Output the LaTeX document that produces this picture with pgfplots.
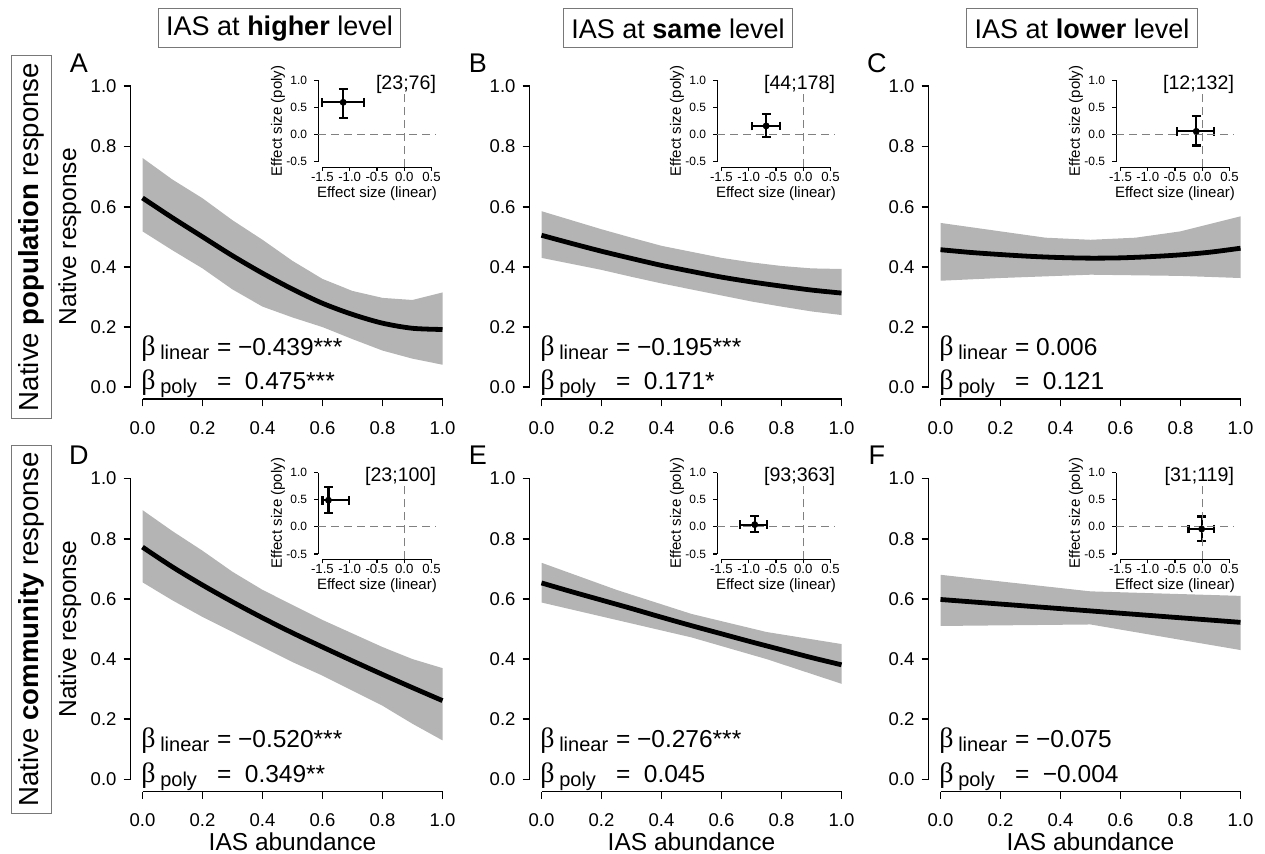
\documentclass[border=0pt]{standalone}
\usepackage{fontspec}
\setmainfont{Liberation Sans}
\newfontfamily\serif{Liberation Serif}
\usepackage{pgfplots}
\pgfplotsset{compat=1.18}
\definecolor{band}{RGB}{180,180,180}
\definecolor{boxgray}{RGB}{120,120,120}
\definecolor{dashgray}{RGB}{128,128,128}
\newcommand\fs[1]{\fontsize{#1}{#1}\selectfont}

\pgfplotsset{
  mainax/.style={
    x=150pt, y=150.5pt, xmin=-0.04, xmax=1.04, ymin=-0.04, ymax=1.04,
    anchor=south west, clip=false,
    axis lines*=left, axis line style={draw=none,-},
    tick align=outside, major tick length=3.5pt,
    every tick/.style={black,line width=0.9pt},
    xtick={0,0.2,0.4,0.6,0.8,1}, xticklabels={0.0,0.2,0.4,0.6,0.8,1.0},
    ytick={0,0.2,0.4,0.6,0.8,1}, yticklabels={0.0,0.2,0.4,0.6,0.8,1.0},
    tick label style={font=\fs{9.25}},
    xticklabel style={yshift=-4pt},
    every axis x label/.style={at={(axis description cs:0.5,-0.155)},anchor=center,font=\fs{12.25}},
    every axis y label/.style={at={(axis description cs:-0.187,0.5)},anchor=center,rotate=90,font=\fs{12.25}},
  },
  inset/.style={
    x=27.25pt, y=27.15pt, xmin=-1.58, xmax=0.58, ymin=-0.6, ymax=1.1,
    anchor=south west, clip=false,
    axis lines*=left, axis line style={draw=none,-},
    tick align=outside, major tick length=2pt,
    every tick/.style={black,line width=0.6pt},
    xtick={-1.5,-1,-0.5,0,0.5}, xticklabels={-1.5,-1.0,-0.5,0.0,0.5},
    ytick={-0.5,0,0.5,1}, yticklabels={-0.5,0.0,0.5,1.0},
    x tick label style={font=\fs{6.6},yshift=3pt},
    y tick label style={font=\fs{6}},
    xlabel={Effect size (linear)}, ylabel={Effect size (poly)},
    every axis x label/.style={at={(axis description cs:0.5,-0.289)},anchor=center,font=\fs{7.5}},
    every axis y label/.style={at={(axis description cs:-0.34,0.5)},anchor=center,rotate=90,font=\fs{7.5}},
  },
  band/.style={fill=band,draw=none},
  fit/.style={black,line width=2.4pt,smooth},
  ebar/.style={black,only marks,mark=*,mark size=1.5pt,
    error bars/.cd, x dir=both, x explicit, y dir=both, y explicit,
    error bar style={line width=1.1pt},
    error mark options={rotate=90,line width=1.1pt,mark size=2.2pt}},
}

% spines drawn only from first to last tick, as in base R
\newcommand\mainspines{%
  \draw[line width=0.9pt] (axis cs:-0.04,0) -- (axis cs:-0.04,1);
  \draw[line width=0.9pt] (axis cs:0,-0.04) -- (axis cs:1,-0.04);}
\newcommand\insetdeco[1]{%
  \draw[line width=0.6pt] (axis cs:-1.58,-0.5) -- (axis cs:-1.58,1);
  \draw[line width=0.6pt] (axis cs:-1.5,-0.6) -- (axis cs:0.5,-0.6);
  \draw[dashgray,line width=0.6pt,dash pattern=on 4pt off 2.5pt] (axis cs:-1.58,0) -- (axis cs:0.58,0);
  \draw[dashgray,line width=0.6pt,dash pattern=on 4pt off 2.5pt] (axis cs:0,-0.6) -- (axis cs:0,0.75);
  \node[anchor=east,inner sep=0,font=\fs{9.8}] at (axis cs:0.59,0.93) {#1};}
\newcommand\betas[3]{%
  \node[anchor=base west,inner sep=0,font=\serif\fs{14}] at (axis cs:-0.005,0.105) {β};
  \node[anchor=base west,inner sep=0,font=\fs{10}] at (axis cs:0.058,0.092) {linear};
  \node[anchor=base west,inner sep=0,font=\fs{12.25}] at (axis cs:0.247,0.105) {= #1};
  \node[anchor=base west,inner sep=0,font=\serif\fs{14}] at (axis cs:-0.005,-0.009) {β};
  \node[anchor=base west,inner sep=0,font=\fs{10}] at (axis cs:0.058,-0.022) {poly};
  \node[anchor=base west,inner sep=0,font=\fs{12.25}] at (axis cs:0.247,-0.009) {=~~#2};
  \node[font=\fs{13.5}] at (axis cs:-0.212,1.078) {#3};}

\begin{document}
\begin{tikzpicture}[x=0.5pt,y=0.5pt]
\path[use as bounding box] (0,0) rectangle (1265,854);

% column titles
\foreach \cx/\txt in {279.5/higher,678/same,1082/lower}
  \node[draw=boxgray,line width=0.5pt,font=\fs{13.5},inner xsep=4pt,minimum height=19.5pt]
    at (\cx,825.5) {IAS at \textbf{\txt} level};
% row titles
\node[draw=boxgray,line width=0.5pt,rotate=90,font=\fs{13.8},inner xsep=3.5pt,minimum height=19.5pt]
  at (31.5,617) {Native \textbf{population} response};
\node[draw=boxgray,line width=0.5pt,rotate=90,font=\fs{13.8},inner xsep=3.5pt,minimum height=19.5pt]
  at (31.5,224.8) {Native \textbf{community} response};

% ---------- A ----------
\begin{axis}[mainax, at={(65.25pt,227.33pt)}, ylabel={Native response}]
\addplot[band] coordinates {(0,.762)(.1,.69)(.2,.628)(.3,.555)(.4,.49)(.5,.42)(.6,.36)(.7,.32)(.8,.297)(.9,.29)(1,.315)
  (1,.075)(.9,.095)(.8,.122)(.7,.16)(.6,.20)(.5,.232)(.4,.268)(.3,.325)(.2,.395)(.1,.455)(0,.518)} -- cycle;
\addplot[fit] coordinates {(0,.629)(.1,.563)(.2,.500)(.3,.437)(.4,.379)(.5,.326)(.6,.279)(.7,.242)(.8,.213)(.9,.196)(1,.192)};
\mainspines
\betas{−0.439***}{0.475***}{A}
\end{axis}
\begin{axis}[inset, at={(159.05pt,343.4pt)}]
\addplot[ebar] coordinates {(-1.12,0.595) += (0.38,0.245) -= (0.39,0.295)};
\insetdeco{[23;76]}
\end{axis}

% ---------- B ----------
\begin{axis}[mainax, at={(264.75pt,227.33pt)}]
\addplot[band] coordinates {(0,.585)(.1,.555)(.2,.525)(.3,.497)(.4,.47)(.5,.45)(.6,.43)(.7,.415)(.8,.403)(.9,.395)(1,.393)
  (1,.24)(.9,.252)(.8,.268)(.7,.285)(.6,.305)(.5,.325)(.4,.345)(.3,.367)(.2,.39)(.1,.41)(0,.43)} -- cycle;
\addplot[fit] coordinates {(0,.505)(.1,.478)(.2,.452)(.3,.428)(.4,.405)(.5,.385)(.6,.366)(.7,.350)(.8,.336)(.9,.323)(1,.313)};
\mainspines
\betas{−0.195***}{0.171*}{B}
\end{axis}
\begin{axis}[inset, at={(358.55pt,343.4pt)}]
\addplot[ebar] coordinates {(-0.68,0.16) += (0.26,0.22) -= (0.26,0.20)};
\insetdeco{[44;178]}
\end{axis}

% ---------- C ----------
\begin{axis}[mainax, at={(464.25pt,227.33pt)}]
\addplot[band] coordinates {(0,.546)(.2,.518)(.35,.497)(.5,.49)(.65,.497)(.8,.518)(1,.568)
  (1,.363)(.8,.370)(.5,.374)(.2,.363)(0,.354)} -- cycle;
\addplot[fit] coordinates {(0,.457)(.1,.448)(.2,.441)(.3,.435)(.4,.431)(.5,.429)(.6,.430)(.7,.434)(.8,.440)(.9,.449)(1,.462)};
\mainspines
\betas{0.006}{0.121}{C}
\end{axis}
\begin{axis}[inset, at={(558.05pt,343.4pt)}]
\addplot[ebar] coordinates {(-0.11,0.06) += (0.32,0.28) -= (0.35,0.26)};
\insetdeco{[12;132]}
\end{axis}

% ---------- D ----------
\begin{axis}[mainax, at={(65.25pt,31.23pt)}, ylabel={Native response}, xlabel={IAS abundance}]
\addplot[band] coordinates {(0,.895)(.1,.825)(.2,.76)(.3,.69)(.4,.63)(.5,.58)(.6,.53)(.7,.485)(.8,.44)(.9,.40)(1,.37)
  (1,.13)(.9,.185)(.8,.245)(.7,.295)(.6,.345)(.5,.39)(.4,.44)(.3,.49)(.2,.54)(.1,.595)(0,.655)} -- cycle;
\addplot[fit] coordinates {(0,.772)(.1,.706)(.2,.646)(.3,.590)(.4,.537)(.5,.487)(.6,.440)(.7,.394)(.8,.349)(.9,.305)(1,.262)};
\mainspines
\betas{−0.520***}{0.349**}{D}
\end{axis}
\begin{axis}[inset, at={(159.05pt,147.3pt)}]
\addplot[ebar] coordinates {(-1.39,0.49) += (0.37,0.25) -= (0.11,0.24)};
\insetdeco{[23;100]}
\end{axis}

% ---------- E ----------
\begin{axis}[mainax, at={(264.75pt,31.23pt)}, xlabel={IAS abundance}]
\addplot[band] coordinates {(0,.72)(.25,.63)(.5,.55)(.75,.49)(1,.45)
  (1,.318)(.75,.40)(.5,.472)(.25,.53)(0,.588)} -- cycle;
\addplot[fit] coordinates {(0,.653)(.1,.624)(.2,.596)(.3,.568)(.4,.539)(.5,.511)(.6,.484)(.7,.457)(.8,.431)(.9,.405)(1,.381)};
\mainspines
\betas{−0.276***}{0.045}{E}
\end{axis}
\begin{axis}[inset, at={(358.55pt,147.3pt)}]
\addplot[ebar] coordinates {(-0.89,0.04) += (0.22,0.16) -= (0.27,0.14)};
\insetdeco{[93;363]}
\end{axis}

% ---------- F ----------
\begin{axis}[mainax, at={(464.25pt,31.23pt)}, xlabel={IAS abundance}]
\addplot[band] coordinates {(0,.68)(.5,.625)(1,.61)
  (1,.43)(.5,.515)(0,.51)} -- cycle;
\addplot[fit] coordinates {(0,.598)(.5,.560)(1,.522)};
\mainspines
\betas{−0.075}{−0.004}{F}
\end{axis}
\begin{axis}[inset, at={(558.05pt,147.3pt)}]
\addplot[ebar] coordinates {(-0.01,-0.04) += (0.23,0.23) -= (0.24,0.22)};
\insetdeco{[31;119]}
\end{axis}
\end{tikzpicture}
\end{document}
